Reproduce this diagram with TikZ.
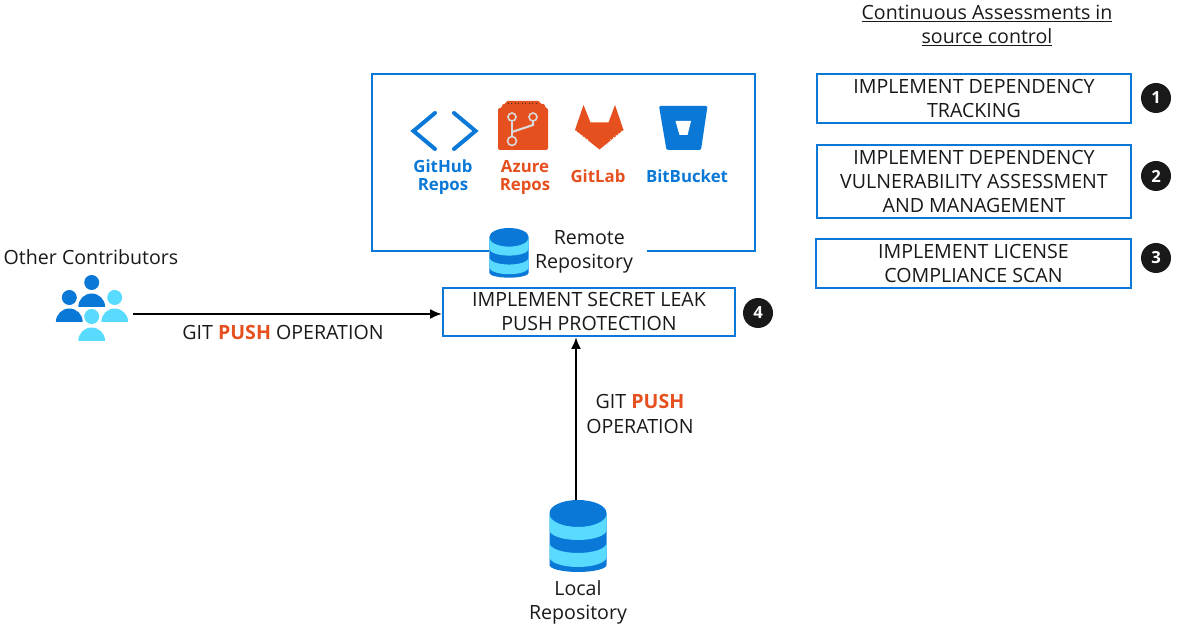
\documentclass[tikz,border=0pt]{standalone}
\usepackage{fontspec}
\setmainfont{Open Sans}
\usetikzlibrary{positioning}
\usetikzlibrary{arrows.meta}
\definecolor{azblue}{HTML}{0A78D7}
\definecolor{azlight}{HTML}{59DBFF}
\definecolor{azorange}{HTML}{E5501E}
\tikzstyle{check}=[draw=azblue,line width=1.5pt,fill=white,align=center,inner sep=0pt,font=\fontsize{14.7}{18}\selectfont,text=black!90]
\tikzstyle{badge}=[circle,fill=black!90,text=white,inner sep=0pt,minimum size=22.5pt,font=\fontsize{12.5}{14}\selectfont\bfseries]
\tikzstyle{caption}=[align=center,inner sep=0pt,font=\fontsize{14.7}{18}\selectfont,text=black!90]
\tikzstyle{tool}=[align=center,inner sep=0pt,font=\fontsize{12.6}{13.5}\selectfont\bfseries]
\tikzstyle{flow}=[line width=1.5pt,-{Latex[length=9pt,width=7.5pt]}]
\newcommand{\pushword}{\textcolor{azorange}{\textbf{PUSH}}}
% db icon, top centre at (0,0)
\tikzset{dbicon/.pic={
	\fill[azblue] (-28.5,-13) -- (-28.5,-65) arc (180:360:28.5 and 7) -- (28.5,-13) arc (0:180:28.5 and 13) -- cycle;
	\fill[azlight] (-28.5,-14) arc (180:360:28.5 and 13) -- (28.5,-30) arc (360:180:28.5 and 10) -- cycle;
	\fill[azlight] (-28.5,-43) arc (180:360:28.5 and 10) -- (28.5,-57) arc (360:180:28.5 and 10) -- cycle;
}}
% person icon, head centre at (0,0)
\tikzset{person/.pic={
	\fill (0,0) circle (7.5);
	\fill (-13.4,-24.4) arc (180:0:13.4 and 13.4) -- cycle;
}}
\begin{document}
\begin{tikzpicture}[x=0.75pt,y=0.75pt]
	\useasboundingbox (0,0) rectangle (1177,-630);
	
	\node [caption] (title) at (987,-25.5) {\underline{Continuous Assessments in}\\\underline{source control}};
	
	\node [check, minimum width=235.5pt, minimum height=36.75pt] (track) at (974,-98.5) {IMPLEMENT DEPENDENCY\\TRACKING};
	\node [check, minimum width=235.5pt, minimum height=54.75pt] (vuln) at (974,-181.5) {IMPLEMENT DEPENDENCY\\VULNERABILITY ASSESSMENT\\AND MANAGEMENT};
	\node [check, minimum width=236pt, minimum height=36.75pt] (license) at (973.5,-263.5) {IMPLEMENT LICENSE\\COMPLIANCE SCAN};
	\node [check, minimum width=219pt, minimum height=36pt] (secret) at (589,-312) {IMPLEMENT SECRET LEAK\\PUSH PROTECTION};
	
	\node [badge] (b1) at (1156,-98) {1};
	\node [badge] (b2) at (1156,-176) {2};
	\node [badge] (b3) at (1156,-258) {3};
	\node [badge] (b4) at (758,-313) {4};
	
	% remote box, open where the label sits
	\draw[azblue,line width=1.5pt] (489,-251) -- (372,-251) -- (372,-74) -- (755,-74) -- (755,-251) -- (647,-251);
	
	% code icon
	\draw[azblue,line width=3pt,line cap=round,line join=miter] (435,-113) -- (413.5,-131) -- (435,-149);
	\draw[azblue,line width=3pt,line cap=round,line join=miter] (454,-113) -- (475.5,-131) -- (454,-149);
	\node [tool, text=azblue] (github) at (443,-177.5) {GitHub\\Repos};
	
	% repos icon
	\fill[azorange,rounded corners=1.5pt] (498,-108) -- (502,-108) -- (502,-104) -- (506,-104) -- (506,-101) -- (540,-101) -- (540,-104) -- (545,-104) -- (545,-108) -- (548,-108) -- (548,-150) -- (498,-150) -- cycle;
	\draw[black!80,line width=0.6pt,dotted] (508,-103.5) -- (537,-103.5);
	\draw[black!15,line width=1.6pt] (512,-121) -- (512,-137);
	\draw[black!15,line width=1.6pt] (533,-121) -- (533,-125) -- (512,-132);
	\draw[black!15,line width=1.2pt] (512,-117) circle (4);
	\draw[black!15,line width=1.2pt] (533,-117) circle (4);
	\draw[black!15,line width=1.2pt] (512,-141) circle (4.5);
	\node [tool, text=azorange] (azure) at (525,-177.5) {Azure\\Repos};
	
	% fox icon
	\fill[azorange] (583.5,-105) -- (590.5,-122.5) -- (608.5,-122.5) -- (615,-105) -- (623.5,-130) -- (599.5,-149.5) -- (575,-130) -- cycle;
	\draw[white,line width=0.6pt,dotted] (576,-131) -- (590,-141);
	\draw[white,line width=0.6pt,dotted] (622,-131) -- (609,-141);
	\node [tool, text=azorange] (gitlab) at (598,-176) {GitLab};
	
	% bucket icon
	\fill[azblue,rounded corners=1pt] (659,-106) -- (707.5,-106) -- (701,-150) -- (666.5,-150) -- cycle;
	\fill[white] (675.5,-121) -- (691,-121) -- (687.5,-135) -- (679.5,-135) -- cycle;
	\node [tool, text=azblue] (bitbucket) at (687,-176) {BitBucket};
	
	\pic[scale=0.69] at (509,-228) {dbicon};
	\node [caption] (remote) at (584,-252) {\hspace*{8pt}Remote\\Repository};
	
	\node [caption] (others) at (91,-257) {Other Contributors};
	\pic[azblue] at (91.7,-282.5) {person};
	\pic[azblue] at (69.3,-297.5) {person};
	\pic[azlight] at (114.7,-297.5) {person};
	\pic[azlight] at (91.7,-316.5) {person};
	
	\pic at (578,-500) {dbicon};
	\node [caption] (local) at (578,-602) {Local\\Repository};
	
	\coordinate (contrib) at (133,-314);
	\coordinate (localtop) at (576,-500);
	\draw[flow] (contrib) -- (contrib -| secret.west);
	\draw[flow] (localtop) -- (localtop |- secret.south);
	
	\node [caption] (pushleft) at (283,-332) {GIT \pushword{} OPERATION};
	\node [caption] (pushup) at (640,-414) {GIT \pushword{}\\OPERATION};
\end{tikzpicture}
\end{document}
